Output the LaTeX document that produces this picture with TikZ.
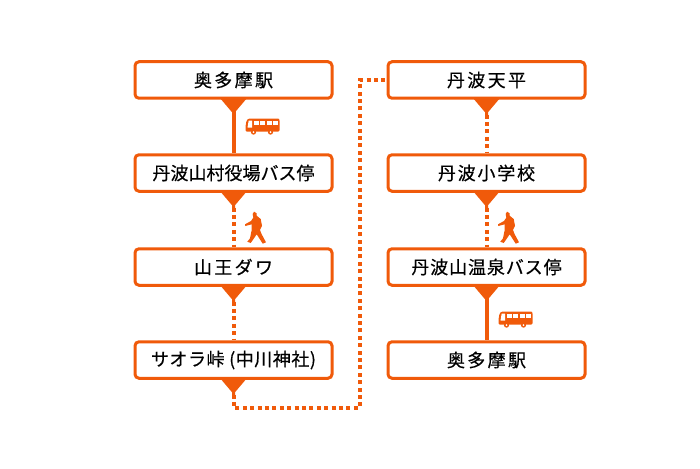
\documentclass[tikz,border=0pt]{standalone}
\usepackage{fontspec}
\setmainfont[FakeBold=0.5]{Noto Sans CJK JP}
\usetikzlibrary{calc}
\definecolor{route}{HTML}{F05A0A}
\tikzset{
  x=1pt,y=-1pt,
  stop/.style={draw=route,line width=3pt,rounded corners=4pt,fill=white,minimum width=197pt,minimum height=36.5pt,inner sep=0pt,text=black,font=\fontsize{18pt}{20pt}\selectfont},
  wide/.style={font=\fontsize{18pt}{20pt}\selectfont\addfontfeature{LetterSpace=#1}},
  solidleg/.style={route,line width=4pt},
  dotleg/.style={route,line width=4pt,dash pattern=on 4pt off 3.4pt},
  pics/arrowhead/.style={code={\fill[route] (-12.5,0) -- (12.5,0) -- (1.5,13) -- (1.5,17) -- (-1.5,17) -- (-1.5,13) -- cycle;}},
  pics/busicon/.style={code={
    \fill[route,rounded corners=1.2pt] (3,0) -- (33,0) -- (34,1) -- (34,13) -- (0,13) -- (0,8) -- (1,2) -- cycle;
    \fill[route] (8,13.6) circle (2.6pt) (25,13.6) circle (2.6pt);
    \fill[white] (8,13.6) circle (1pt) (25,13.6) circle (1pt);
    \fill[white] (3.2,2) -- (6.5,2) -- (6.5,9) -- (2,9) -- cycle;
    \foreach \wx in {8.2,14.6,21,27.2}{\fill[white] (\wx,2) rectangle ++(5,4.8);}
  }},
  pics/walkicon/.style={code={
    \fill[route] (8,-0.3) .. controls (7,0.3) and (6.5,1) .. (6.7,2) -- (7.3,5.7) -- (5,9) -- (-1,12.3) -- (-0.7,14) -- (5.7,12.3)
      -- (5.7,18) -- (4,26.3) -- (1.3,29.7) -- (4.7,31) -- (8,26.3) -- (10.7,22.3) -- (16.7,31.7) -- (20,30.3) -- (15.7,22.3)
      -- (14,18) -- (16,13.7) -- (14.7,7) -- (10.7,3.7) -- (10.7,1.3) -- cycle;
  }},
}
\begin{document}
\begin{tikzpicture}
\useasboundingbox (0,0) rectangle (700,468);
\node[stop,wide=13] (a1) at (233.5,80) {奥多摩駅};
\node[stop,wide=0] (a2) at (233.5,173) {丹波山村役場バス停};
\node[stop,wide=13] (a3) at (233.5,267) {山王ダワ};
\node[stop,wide=3] (a4) at (233.5,360) {サオラ峠 (中川神社)};
\node[stop,wide=13] (b1) at (486.5,80) {丹波天平};
\node[stop,wide=10] (b2) at (486.5,173) {丹波小学校};
\node[stop,wide=5] (b3) at (486.5,267) {丹波山温泉バス停};
\node[stop,wide=13] (b4) at (486.5,360) {奥多摩駅};
\coordinate (c1) at (233.5,407.5);
\coordinate (c2) at (360,407.5);
\coordinate (c3) at (360,80);
\draw[solidleg] (a1.south) -- (a2.north);
\draw[dotleg] (a2.south) -- (a3.north);
\draw[dotleg] (a3.south) -- (a4.north);
\draw[dotleg] (a4.south) -- (c1) -- (c2) -- (c3) -- (b1.west);
\draw[dotleg] (b1.south) -- (b2.north);
\draw[dotleg] (b2.south) -- (b3.north);
\draw[solidleg] (b3.south) -- (b4.north);
\foreach \n in {a1,a2,a3,a4,b1,b2,b3}{\pic at ($(\n.south)+(0,-0.5)$) {arrowhead};}
\pic at (245.5,118.5) {busicon};
\pic at (498.5,311.5) {busicon};
\pic at (246,212) {walkicon};
\pic at (499,212) {walkicon};
\end{tikzpicture}
\end{document}
